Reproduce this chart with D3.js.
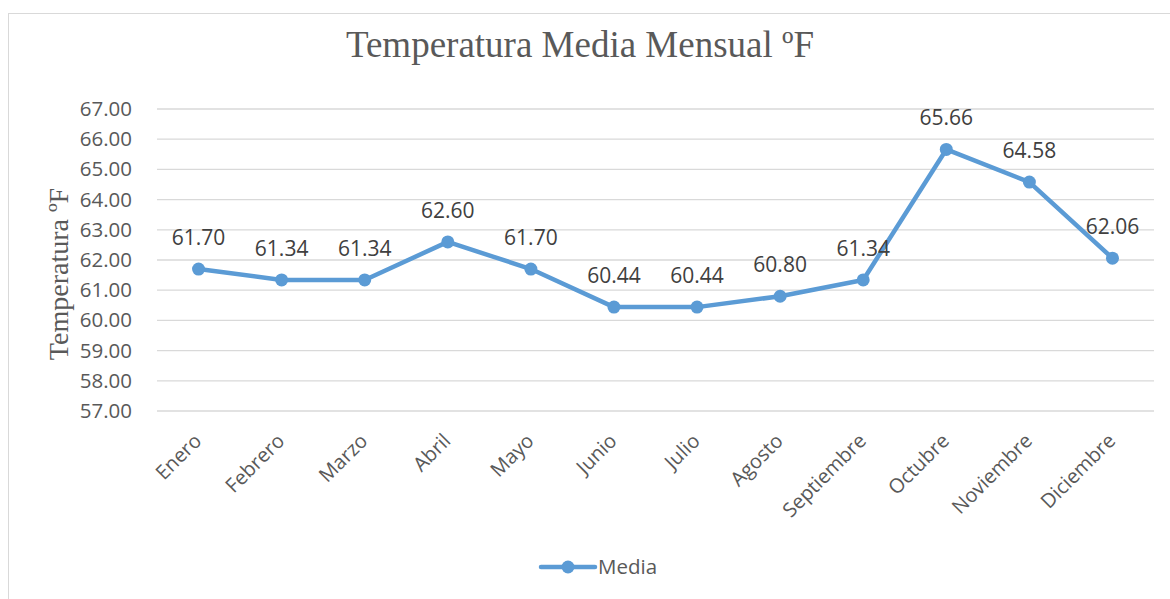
<!DOCTYPE html>
<html>
<head>
<meta charset="utf-8">
<script src="https://cdn.jsdelivr.net/npm/d3@7"></script>
<style>
    body { margin: 0; background: #fff; }
    svg { display: block; }
</style>
</head>
<body>
<div id="chart"></div>
<script>
    const months = ["Enero", "Febrero", "Marzo", "Abril", "Mayo", "Junio", "Julio", "Agosto", "Septiembre", "Octubre", "Noviembre", "Diciembre"];
    const media = [61.70, 61.34, 61.34, 62.60, 61.70, 60.44, 60.44, 60.80, 61.34, 65.66, 64.58, 62.06];
    const yTicks = [57, 58, 59, 60, 61, 62, 63, 64, 65, 66, 67];

    const width = 1170, height = 599;
    const margin = { top: 109, right: 16, bottom: 188, left: 157 };
    const color = "#5B9BD5";
    const textColor = "#595959";
    const sans = "'Open Sans', sans-serif";
    const serif = "'Liberation Serif', 'Times New Roman', serif";

    const svg = d3.select("#chart").append("svg")
        .attr("width", width)
        .attr("height", height);

    // chart area frame
    svg.append("rect")
        .attr("x", 8.5).attr("y", 13.5)
        .attr("width", width + 10).attr("height", height + 10)
        .attr("fill", "#fff")
        .attr("stroke", "#d9d9d9")
        .attr("stroke-width", 1);

    const x = d3.scaleBand()
        .domain(months)
        .range([margin.left, width - margin.right]);

    const y = d3.scaleLinear()
        .domain([57, 67])
        .range([height - margin.bottom, margin.top]);

    // title
    svg.append("text")
        .attr("x", 580).attr("y", 57)
        .attr("text-anchor", "middle")
        .style("font-family", serif)
        .style("font-size", "37px")
        .style("fill", textColor)
        .text("Temperatura Media Mensual ºF");

    // gridlines
    svg.append("g")
        .selectAll("line")
        .data(yTicks)
        .join("line")
        .attr("x1", margin.left).attr("x2", width - margin.right)
        .attr("y1", d => y(d)).attr("y2", d => y(d))
        .attr("stroke", "#d9d9d9")
        .attr("stroke-width", 1.3);

    // y axis
    const yAxis = svg.append("g")
        .attr("transform", `translate(${margin.left - 22},0)`)
        .call(d3.axisLeft(y).tickValues(yTicks).tickFormat(d3.format(".2f")).tickSize(0));
    yAxis.select(".domain").remove();
    yAxis.selectAll("text")
        .style("font-family", sans)
        .style("font-size", "20.5px")
        .style("fill", textColor);

    // y axis title
    svg.append("text")
        .attr("transform", `translate(68,274) rotate(-90)`)
        .attr("text-anchor", "middle")
        .style("font-family", serif)
        .style("font-size", "28px")
        .style("fill", textColor)
        .text("Temperatura ºF");

    // x axis labels
    const xAxis = svg.append("g")
        .attr("transform", `translate(0,${height - margin.bottom})`)
        .call(d3.axisBottom(x).tickSize(0));
    xAxis.select(".domain").remove();
    xAxis.selectAll("text")
        .style("font-family", sans)
        .style("font-size", "20px")
        .style("fill", textColor)
        .attr("text-anchor", "end")
        .attr("dy", 0)
        .attr("transform", "translate(2,29) rotate(-45)");

    const cx = d => x(d) + x.bandwidth() / 2;

    // line
    const line = d3.line()
        .x((d, i) => cx(months[i]))
        .y(d => y(d));

    svg.append("path")
        .datum(media)
        .attr("fill", "none")
        .attr("stroke", color)
        .attr("stroke-width", 4.5)
        .attr("stroke-linejoin", "round")
        .attr("stroke-linecap", "round")
        .attr("d", line);

    svg.append("g")
        .selectAll("circle")
        .data(media)
        .join("circle")
        .attr("cx", (d, i) => cx(months[i]))
        .attr("cy", d => y(d))
        .attr("r", 6.5)
        .attr("fill", color);

    // data labels
    svg.append("g")
        .selectAll("text")
        .data(media)
        .join("text")
        .attr("x", (d, i) => cx(months[i]))
        .attr("y", d => y(d) - 24)
        .attr("text-anchor", "middle")
        .style("font-family", sans)
        .style("font-size", "21px")
        .style("fill", "#404040")
        .text(d => d.toFixed(2));

    // legend
    const legend = svg.append("g").attr("transform", "translate(541,567)");
    legend.append("line")
        .attr("x1", 0).attr("x2", 54)
        .attr("stroke", color)
        .attr("stroke-width", 4.5)
        .attr("stroke-linecap", "round");
    legend.append("circle")
        .attr("cx", 27).attr("r", 6.5)
        .attr("fill", color);
    legend.append("text")
        .attr("x", 57).attr("y", 7)
        .style("font-family", sans)
        .style("font-size", "20.5px")
        .style("fill", textColor)
        .text("Media");
</script>
</body>
</html>
